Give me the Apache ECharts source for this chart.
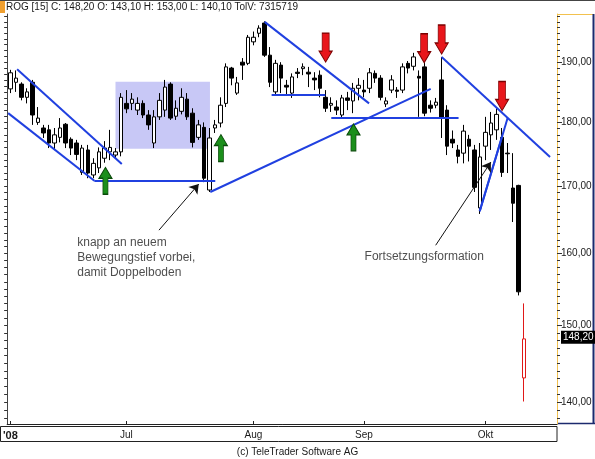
<!DOCTYPE html>
<html>
<head>
<meta charset="utf-8">
<script src="https://cdn.jsdelivr.net/npm/echarts@6/dist/echarts.min.js"></script>
<style>
html, body { margin: 0; padding: 0; background: #fff; }
#chart { width: 595px; height: 459px; }
</style>
</head>
<body>
<div id="chart"></div>
<script>
// trading days (SIX, 1 Aug closed)
var junDays = [2,3,4,5,6,9,10,11,12,13,16,17,18,19,20,23,24,25,26,27,30];
var julDays = [1,2,3,4,7,8,9,10,11,14,15,16,17,18,21,22,23,24,25,28,29,30,31];
var augDays = [4,5,6,7,8,11,12,13,14,15,18,19,20,21,22,25,26,27,28,29];
var sepDays = [1,2,3,4,5,8,9,10,11,12,15,16,17,18,19,22,23,24,25,26,29,30];
var octDays = [1,2,3,6,7,8,9,10];
var monthNames = {6: "'08", 7: 'Jul', 8: 'Aug', 9: 'Sep', 10: 'Okt'};

var opens = [185.5,186.6,186.3,184.1,186.6,180.0,179.1,178.8,176.7,177.6,179.7,177.3,176.7,172.1,175.6,171.7,172.8,174.3,175.3,174.8,175.3,
  183.1,183.1,182.0,183.1,181.2,176.7,180.9,182.0,186.3,181.0,181.8,183.8,181.5,177.6,179.2,169.4,179.1,179.9,183.1,189.0,184.8,190.0,189.8,
  193.5,195.0,196.8,191.2,185.0,189.5,186.1,184.8,188.3,188.9,188.3,187.3,187.8,184.1,182.8,182.5,181.2,184.0,183.5,185.6,
  185.3,185.6,188.1,187.3,183.0,185.3,185.3,185.3,189.8,189.3,187.6,189.2,182.8,182.8,187.0,182.0,177.3,175.6,175.1,177.3,175.6,166.7,
  176.2,178.0,178.8,177.6,175.1,169.7,170.1,143.1];
var highs = [188.7,188.6,186.6,185.6,187.0,182.5,179.6,179.6,179.1,180.7,179.9,177.6,177.2,176.4,176.4,174.3,176.0,177.0,178.8,175.9,184.8,
  185.3,184.8,184.1,183.6,182.0,182.0,184.8,187.0,186.6,183.6,185.6,184.8,182.3,180.4,180.0,179.1,180.4,184.1,189.8,189.2,187.5,190.7,194.7,
  195.3,196.4,197.1,192.6,190.4,190.0,187.0,188.1,189.0,189.8,189.2,188.3,188.6,185.3,184.1,183.6,184.5,185.0,186.5,187.3,
  187.0,189.0,188.6,187.8,184.1,187.8,185.8,189.8,190.2,191.6,188.6,190.0,183.6,184.0,190.9,182.8,178.7,176.4,179.6,178.0,176.4,176.7,
  180.9,181.7,182.3,179.1,176.7,175.1,170.2,153.0];
var lows = [184.8,185.0,183.6,183.1,179.6,179.6,177.5,175.9,175.6,176.8,175.9,174.8,174.0,171.7,171.2,171.2,172.0,173.6,174.0,174.3,174.6,
  181.5,182.0,181.2,180.7,178.8,175.9,180.4,180.9,180.4,180.4,181.3,180.4,176.0,177.2,170.6,169.1,178.3,179.2,182.5,186.1,184.5,187.0,189.5,
  192.9,194.3,190.9,185.8,184.5,184.8,184.5,184.0,187.3,187.8,185.8,185.3,184.1,181.7,181.7,181.2,180.7,182.0,181.5,183.6,
  184.1,184.8,186.5,183.6,182.5,184.8,184.0,184.8,188.1,188.6,180.9,181.0,181.6,182.3,177.5,174.8,175.9,173.5,173.5,173.8,169.1,165.8,
  174.0,175.6,177.2,171.4,172.0,164.6,154.1,140.1];
var closes = [188.2,187.3,184.1,185.0,181.2,180.7,178.3,176.7,178.0,179.1,176.7,175.9,174.9,175.9,172.0,173.5,175.3,175.9,176.0,175.3,184.1,
  182.2,183.8,183.1,181.2,179.6,180.9,183.6,185.8,180.7,182.3,184.1,180.9,176.8,179.6,171.2,177.5,179.6,182.8,189.2,187.3,186.5,189.5,194.3,
  194.3,195.9,191.2,186.6,189.8,187.3,185.8,187.5,188.1,189.2,188.0,187.0,185.6,182.3,183.1,182.0,184.0,183.6,185.6,186.1,
  185.0,188.2,187.3,184.1,183.5,187.0,185.1,189.2,189.0,190.9,187.3,181.5,182.3,183.3,180.7,176.2,176.7,174.6,178.6,176.2,169.8,174.5,
  178.4,179.9,181.3,172.1,175.0,167.4,154.6,148.2];

// price axis range and tick values
var priceMin = 137.3, priceMax = 198.4;
var majorTicks = [140,150,160,170,180,190];
var minorTicks = [];
for (var t = 138; t <= 198; t++) minorTicks.push(t);

// drawn studies: [index1, price1, index2, price2]
var trendLines = [
  [1.21,188.8,20.16,173.4],
  [-0.41,181.5,15.19,170.8],
  [15.19,170.8,37.08,170.8],
  [36.18,169.1,76.08,185.5],
  [46.02,197.0,64.92,183.1],
  [47.28,184.6,57.0,184.6],
  [58.08,180.7,81.12,180.7],
  [78.06,190.9,97.68,174.5],
  [84.95,166.2,90.0,180.7],
  [84.95,166.2,88.98,177.7]
];
var pointers = [[26.89,163.4,34.09,170.3],[76.98,161.2,86.97,173.7]];
var redArrows = [[57.06,192.5],[74.9,192.4],[78.06,193.9],[89.0,184.3]];
var greenArrows = [[17.2,170.8],[38.1,175.9],[62.1,177.6]];
var boxArea = [19.02,186.7,36.12,175.8];
var notes = [
  [12.19,162.5,'knapp an neuem\nBewegungstief vorbei,\ndamit Doppelboden'],
  [64.2,160.5,'Fortsetzungsformation']
];

var L = Math.log;
var dates = [];
[[6,junDays],[7,julDays],[8,augDays],[9,sepDays],[10,octDays]].forEach(function (m) {
  m[1].forEach(function (d) { dates.push({m: m[0], d: d}); });
});
var monthStarts = [];
dates.forEach(function (dt, i) {
  if (i === 0 || dates[i - 1].m !== dt.m) monthStarts.push(i);
});

var fmt = function (v) { return v.toFixed(2).replace('.', ','); };
var last = closes.length - 1;
var header = 'ROG [15] C: ' + fmt(closes[last]) + ' O: ' + fmt(opens[last]) +
  ' H: ' + fmt(highs[last]) + ' L: ' + fmt(lows[last]) + ' TolV: 7315719';

var candles = opens.map(function (o, i) {
  var item = {value: [i, L(o), L(closes[i]), L(lows[i]), L(highs[i])]};
  if (i === last) item.itemStyle = {color: '#fff', borderColor: '#e01818', color0: '#fff', borderColor0: '#e01818'};
  return item;
});

var font = "'Liberation Sans', Arial, sans-serif";
var yBase = {
  type: 'value', min: L(priceMin), max: L(priceMax), scale: true,
  splitLine: {show: false}
};

var chart = echarts.init(document.getElementById('chart'));
chart.setOption({
  animation: false,
  backgroundColor: '#fff',
  title: [
    {text: header, left: 6, top: 0, padding: [2, 0], textStyle: {fontSize: 10, fontWeight: 'normal', color: '#1a1a1a', fontFamily: font}},
    {text: '(c) TeleTrader Software AG', left: 'center', top: 447, padding: 0, textStyle: {fontSize: 10, fontWeight: 'normal', color: '#1a1a1a', fontFamily: font}}
  ],
  grid: {left: 4, right: 38, top: 14, bottom: 35},
  xAxis: {
    type: 'value', min: -0.594, max: 98.94,
    axisLine: {show: true, onZero: false, lineStyle: {color: '#222'}},
    axisTick: {show: true, customValues: monthStarts, inside: true, length: 3, lineStyle: {color: '#222'}},
    axisLabel: {
      customValues: monthStarts, margin: 6, fontSize: 10, color: '#1a1a1a', fontFamily: font,
      formatter: function (v) {
        var i = Math.round(v);
        return i === 0 ? '{b|' + monthNames[dates[i].m] + '}' : monthNames[dates[i].m];
      },
      rich: {b: {fontWeight: 'bold', fontSize: 11, fontFamily: font, color: '#1a1a1a'}}
    },
    splitLine: {show: false}
  },
  yAxis: [
    Object.assign({}, yBase, {
      position: 'right',
      axisLine: {show: true, onZero: false, lineStyle: {color: '#f2c14e'}},
      axisTick: {show: true, customValues: majorTicks.map(L), length: 5, lineStyle: {color: '#333'}},
      axisLabel: {customValues: majorTicks.map(L), margin: 4, fontSize: 10, color: '#1a1a1a', fontFamily: font,
        formatter: function (v) { return fmt(Math.exp(v)); }}
    }),
    Object.assign({}, yBase, {
      position: 'right',
      axisLine: {show: false, onZero: false},
      axisTick: {show: true, customValues: minorTicks.map(L), length: 3, lineStyle: {color: '#333'}},
      axisLabel: {show: false}
    }),
    Object.assign({}, yBase, {
      position: 'left',
      axisLine: {show: true, onZero: false, lineStyle: {color: '#444'}},
      axisTick: {show: true, customValues: minorTicks.map(L), length: 3, lineStyle: {color: '#333'}},
      axisLabel: {show: false}
    })
  ],
  series: [
    {
      type: 'line', data: [], z: 1, silent: true,
      markArea: {
        silent: true,
        itemStyle: {color: '#c8c8f6'},
        data: [[{coord: [boxArea[0], L(boxArea[1])]}, {coord: [boxArea[2], L(boxArea[3])]}]]
      }
    },
    {
      type: 'candlestick', z: 2, clip: false,
      encode: {x: 0, y: [1, 2, 3, 4]},
      barWidth: 4,
      itemStyle: {color: '#fff', color0: '#000', borderColor: '#000', borderColor0: '#000', borderWidth: 1},
      data: candles,
      markLine: {
        silent: true, symbol: 'none',
        lineStyle: {color: 'rgba(0,0,0,0)', width: 0},
        label: {position: 'end', distance: 4, formatter: fmt(closes[last]), backgroundColor: '#000', color: '#fff',
          padding: [2, 2, 1, 2], fontSize: 10, fontFamily: font},
        data: [{yAxis: L(closes[last])}]
      }
    },
    {
      type: 'lines', coordinateSystem: 'cartesian2d', z: 4, silent: true,
      lineStyle: {color: '#2040e0', width: 2, opacity: 1},
      data: trendLines.map(function (s) { return {coords: [[s[0], L(s[1])], [s[2], L(s[3])]]}; })
    },
    {
      type: 'lines', coordinateSystem: 'cartesian2d', z: 5, silent: true,
      symbol: ['none', 'arrow'], symbolSize: 9,
      lineStyle: {color: '#111', width: 1, opacity: 1},
      data: pointers.map(function (s) { return {coords: [[s[0], L(s[1])], [s[2], L(s[3])]]}; })
    },
    {
      type: 'scatter', z: 6, silent: true,
      symbol: 'path://M3,0 L10,0 L10,18 L13,18 L6.5,29 L0,18 L3,18 Z',
      symbolSize: [13, 29],
      itemStyle: {color: '#e8161b', borderColor: '#7a0000', borderWidth: 1, opacity: 1},
      data: redArrows.map(function (a) { return [a[0], L(a[1])]; })
    },
    {
      type: 'scatter', z: 6, silent: true,
      symbol: 'path://M6.5,0 L13,11 L9,11 L9,27 L4,27 L4,11 L0,11 Z',
      symbolSize: [13, 27],
      itemStyle: {color: '#1b8f1b', borderColor: '#0a4a0a', borderWidth: 1, opacity: 1},
      data: greenArrows.map(function (a) { return [a[0], L(a[1])]; })
    },
    {
      type: 'scatter', z: 7, silent: true, symbolSize: 1,
      itemStyle: {color: 'rgba(0,0,0,0)'},
      label: {show: true, position: [0, 0], align: 'left', verticalAlign: 'top',
        fontSize: 12, lineHeight: 14.7, color: '#222', fontFamily: font,
        formatter: function (p) { return notes[p.dataIndex][2]; }},
      data: notes.map(function (n) { return [n[0], L(n[1])]; })
    }
  ],
  graphic: [
    {type: 'rect', shape: {x: 0, y: 0, width: 5, height: 13}, style: {fill: '#f0a030'}},
    {type: 'line', shape: {x1: 0, y1: 0.5, x2: 595, y2: 0.5}, style: {stroke: '#444', lineWidth: 1}},
    {type: 'line', shape: {x1: 557, y1: 14.5, x2: 594, y2: 14.5}, style: {stroke: '#f2c14e', lineWidth: 1}},
    {type: 'line', shape: {x1: 593.5, y1: 14, x2: 593.5, y2: 424}, style: {stroke: '#1c2a6e', lineWidth: 2}},
    {type: 'line', shape: {x1: 557, y1: 423.5, x2: 595, y2: 423.5}, style: {stroke: '#1c2a6e', lineWidth: 1.5}},
    {type: 'rect', shape: {x: 0.5, y: 426.5, width: 556.5, height: 15}, style: {fill: 'none', stroke: '#222', lineWidth: 1}}
  ]
});
</script>
</body>
</html>
